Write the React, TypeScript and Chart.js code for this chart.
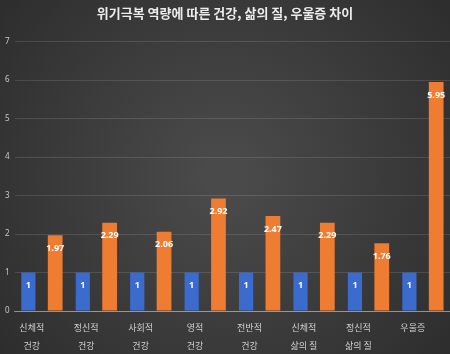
import React, { useEffect, useRef } from "react";
import { Chart, registerables } from "chart.js";

Chart.register(...registerables);

const TITLE = "위기극복 역량에 따른 건강, 삶의 질, 우울증 차이";
const categories: string[][] = [
  ["신체적", "건강"],
  ["정신적", "건강"],
  ["사회적", "건강"],
  ["영적", "건강"],
  ["전반적", "건강"],
  ["신체적", "삶의 질"],
  ["정신적", "삶의 질"],
  ["우울증"],
];
const baseValues = [1, 1, 1, 1, 1, 1, 1, 1];
const highValues = [1.97, 2.29, 2.06, 2.92, 2.47, 2.29, 1.76, 5.95];
const yMin = 0;
const yMax = 7;

const bgPlugin = {
  id: "bgPlugin",
  beforeDraw(chart: any) {
    const { ctx, width, height } = chart;
    ctx.save();
    const g = ctx.createRadialGradient(width / 2, height / 2, 20, width / 2, height / 2, width * 0.7);
    g.addColorStop(0, "#4a4a4a");
    g.addColorStop(1, "#2a2a2a");
    ctx.fillStyle = g;
    ctx.fillRect(0, 0, width, height);
    ctx.restore();
  },
};

const labelPlugin = {
  id: "labelPlugin",
  afterDatasetsDraw(chart: any) {
    const { ctx } = chart;
    ctx.save();
    ctx.fillStyle = "#ffffff";
    ctx.font = "bold 9px 'Noto Sans', sans-serif";
    ctx.textAlign = "center";
    ctx.textBaseline = "middle";
    chart.data.datasets.forEach((ds: any, i: number) => {
      const meta = chart.getDatasetMeta(i);
      meta.data.forEach((bar: any, j: number) => {
        ctx.fillText(String(ds.data[j]), bar.x, bar.y + 13);
      });
    });
    ctx.restore();
  },
};

export default function App() {
  const ref = useRef<HTMLCanvasElement>(null);
  useEffect(() => {
    document.body.style.margin = "0";
    const chart = new Chart(ref.current!, {
      type: "bar",
      data: {
        labels: categories,
        datasets: [
          {
            label: "low",
            data: baseValues,
            backgroundColor: "#3a6bcd",
            categoryPercentage: 0.985,
            barPercentage: 0.53,
          },
          {
            label: "high",
            data: highValues,
            backgroundColor: "#ee7d31",
            categoryPercentage: 0.985,
            barPercentage: 0.55,
          },
        ],
      },
      options: {
        responsive: false,
        animation: false,
        layout: { padding: { left: 0, right: 0, top: 0, bottom: -9 } },
        plugins: {
          legend: { display: false },
          tooltip: { enabled: false },
          title: {
            display: true,
            text: TITLE,
            color: "#ececec",
            font: { size: 13, weight: "bold", family: "'Noto Sans CJK KR', sans-serif" },
            padding: { top: 5, bottom: 21 },
          },
        },
        scales: {
          x: {
            grid: { display: false, drawTicks: false },
            border: { display: true, color: "rgba(255,255,255,0.4)" },
            ticks: {
              color: "#d0d0d0",
              font: { size: 9, family: "'Noto Sans CJK KR', sans-serif", lineHeight: 2 },
              padding: 8,
              labelOffset: -10,
              maxRotation: 0,
              autoSkip: false,
            },
          },
          y: {
            min: yMin,
            max: yMax,
            grid: { color: "rgba(255,255,255,0.12)", drawTicks: false },
            border: { display: false },
            ticks: {
              stepSize: 1,
              color: "#c8c8c8",
              font: { size: 8, family: "'Noto Sans', sans-serif" },
              padding: 5,
            },
          },
        },
      },
      plugins: [bgPlugin, labelPlugin],
    });
    return () => chart.destroy();
  }, []);
  return (
    <div style={{ width: 450, height: 354 }}>
      <canvas ref={ref} width={450} height={354} />
    </div>
  );
}
